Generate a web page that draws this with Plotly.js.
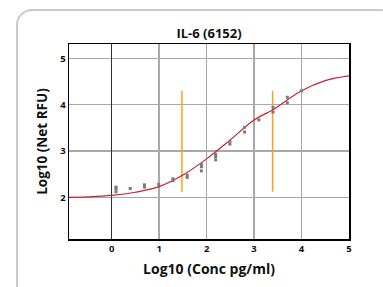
<!DOCTYPE html>
<html><head><meta charset="utf-8">
<script src="https://cdn.plot.ly/plotly-3.0.1.min.js"></script>
<style>
html,body{margin:0;padding:0;background:#fff;width:383px;height:287px;overflow:hidden;}
#card{position:absolute;left:16px;top:9px;width:380px;height:300px;border:2.5px solid #c9c9c9;border-radius:16px;box-sizing:border-box;}
#chart{position:absolute;left:0;top:0;width:383px;height:287px;}
</style></head>
<body>
<div id="card"></div>
<div id="chart"></div>
<script>
// measured points (log10 conc, log10 net RFU)
var doseX = [0.09,0.09,0.09,0.39,0.69,0.69,0.99,1.29,1.29,1.59,1.59,1.89,1.89,1.89,2.19,2.19,2.19,2.49,2.49,2.80,2.80,3.10,3.40,3.40,3.70,3.70,4.00];
var doseY = [2.22,2.18,2.12,2.19,2.27,2.22,2.28,2.40,2.36,2.48,2.43,2.71,2.66,2.57,2.93,2.88,2.81,3.21,3.15,3.51,3.41,3.67,3.94,3.84,4.16,4.04,4.30];
// fitted curve
var curveX = [-0.9,-0.5,0,0.5,1.0,1.5,2.0,2.5,3.0,3.4,3.5,4.0,4.5,5.0];
var curveY = [2.00,2.01,2.04,2.11,2.23,2.48,2.83,3.24,3.67,3.89,3.96,4.30,4.52,4.62];
// range markers
var rangeX = [1.48,3.39];
var rangeYLow = 2.12, rangeYHigh = 4.30;
var xTicks = [0,1,2,3,4,5];
var yTicks = [2,3,4,5];

var traces = [];
rangeX.forEach(function(x){
  traces.push({x:[x,x],y:[rangeYLow,rangeYHigh],mode:'lines',line:{color:'#f6a21e',width:1.5},hoverinfo:'skip',showlegend:false});
});
traces.push({x:curveX,y:curveY,mode:'lines',line:{color:'#c8202f',width:1.2,shape:'spline'},showlegend:false});
traces.push({x:doseX,y:doseY,mode:'markers',marker:{symbol:'square',size:3,color:'#7a7a7a'},showlegend:false});

var fontFam = '"Open Sans", Lato, sans-serif';
var layout = {
  width:383,height:287,
  margin:{l:69,r:34,t:44,b:48},
  paper_bgcolor:'rgba(0,0,0,0)',plot_bgcolor:'#fff',
  title:{text:'IL-6 (6152)',x:0.5,xref:'paper',y:0.885,yref:'container',yanchor:'middle',font:{family:fontFam,size:13,color:'#111',weight:'bold'}},
  xaxis:{range:[-0.9,5],tickvals:xTicks,ticktext:xTicks.map(String),showgrid:true,gridcolor:'#a8a8a8',gridwidth:1.5,
    zeroline:true,zerolinecolor:'#333',zerolinewidth:1.5,showline:true,mirror:true,linecolor:'#000',linewidth:1.5,ticks:'',
    tickfont:{family:fontFam,size:9.5,color:'#111',weight:'bold'},
    title:{text:'Log10 (Conc pg/ml)',standoff:10,font:{family:fontFam,size:14,color:'#111',weight:'bold'}}},
  yaxis:{range:[1.1,5.31],tickvals:yTicks,ticktext:yTicks.map(String),showgrid:true,gridcolor:'#a8a8a8',gridwidth:1.5,
    zeroline:false,showline:true,mirror:true,linecolor:'#000',linewidth:1.5,ticks:'',
    tickfont:{family:fontFam,size:9.5,color:'#111',weight:'bold'},
    title:{text:'Log10 (Net RFU)',standoff:9,font:{family:fontFam,size:13.5,color:'#111',weight:'bold'}}}
};
Plotly.newPlot('chart',traces,layout,{displayModeBar:false,staticPlot:true});
</script>
</body></html>
